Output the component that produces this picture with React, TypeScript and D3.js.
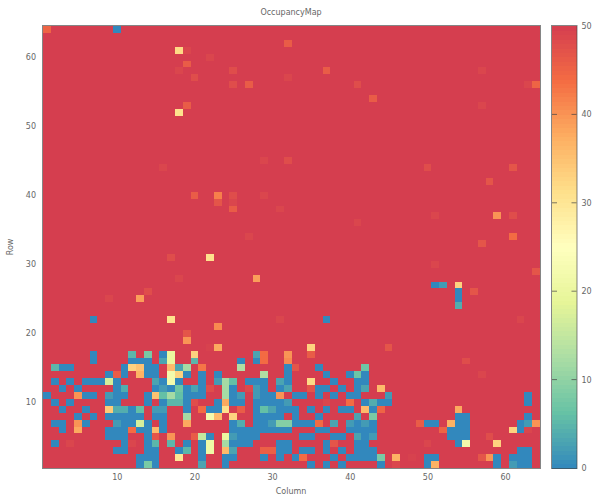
import React, { useRef, useEffect } from 'react';
import * as d3 from 'd3';

type Cell = [number, number]; // [column, occupancy]

const WIDTH = 595;
const HEIGHT = 497;

const title = 'OccupancyMap';
const xTitle = 'Column';
const yTitle = 'Row';
const colCount = 64;
const rowCount = 64;
const fullValue = 50;
const xTicks = [10, 20, 30, 40, 50, 60];
const yTicks = [10, 20, 30, 40, 50, 60];
const barTicks = [0, 10, 20, 30, 40, 50];
const palette = ['#3288bd', '#66c2a5', '#abdda4', '#e6f598', '#ffffbf', '#fee08b', '#fdae61', '#f46d43', '#d53e4f'];

// Only the cells below full occupancy are listed, the rest of the map is fullValue
const row01: Cell[] = [[13,0],[14,8],[15,0],[21,3],[24,0],[35,0],[37,0],[39,0],[44,0],[46,49],[50,0],[51,37],[59,0],[61,2],[62,0],[63,0]];
const row02: Cell[] = [[13,0],[14,0],[15,0],[18,30],[21,0],[24,0],[25,0],[29,0],[31,0],[33,0],[34,44],[38,0],[40,0],[41,0],[42,0],[43,0],[44,8],[46,37],[48,49.5],[50,0],[51,0],[57,47],[58,40],[59,0],[61,0],[62,0],[63,0]];
const row03: Cell[] = [[10,0],[11,0],[14,0],[15,0],[18,0],[19,5],[21,0],[22,21],[24,36],[25,3],[29,45.5],[30,45.5],[31,0],[32,0],[34,0],[35,0],[37,0],[39,0],[41,0],[42,0],[43,0],[62,0],[63,0]];
const row04: Cell[] = [[2,0],[4,49],[11,0],[12,49],[14,0],[15,5],[17,5],[19,0],[21,0],[22,21],[24,12],[25,0],[26,0],[27,0],[31,0],[32,0],[37,0],[38,47],[41,0],[42,0],[50,49],[54,0],[55,22],[59,33]];
const row05: Cell[] = [[9,0],[10,0],[11,0],[14,0],[15,47],[17,40],[20,46],[21,15],[22,0],[24,20],[25,2],[26,0],[27,0],[28,0],[34,0],[35,0],[38,0],[39,0],[41,3],[42,0],[43,2],[53,0],[54,0],[55,0],[58,48]];
const row06: Cell[] = [[3,0],[5,38],[9,0],[10,0],[11,0],[12,44],[13,0],[14,0],[15,36],[16,0],[25,0],[26,0],[27,0],[28,0],[29,0],[30,0],[31,0],[32,0],[36,0],[37,0],[40,0],[41,0],[42,0],[43,0],[52,45],[53,0],[54,0],[55,0],[61,33],[62,0],[63,49]];
const row07: Cell[] = [[2,0],[3,0],[5,40],[6,0],[10,2],[11,0],[12,0],[13,17],[14,0],[16,0],[19,38],[25,0],[26,4],[28,0],[29,0],[30,2],[31,9],[32,9],[33,0],[34,0],[35,0],[36,44],[38,3],[40,2],[41,0],[42,2],[43,0],[49,46],[50,0],[51,0],[53,37],[54,0],[55,0],[62,0],[63,2],[64,40]];
const row08: Cell[] = [[5,0],[7,0],[9,0],[10,0],[11,0],[12,0],[13,0],[15,0],[16,0],[19,12],[22,22],[23,36],[25,33],[28,0],[29,0],[30,0],[31,0],[33,0],[36,0],[41,3],[43,8],[54,0],[55,0],[63,0]];
const row09: Cell[] = [[3,0],[6,0],[9,34],[10,4],[11,4],[12,0],[13,6],[15,2],[16,2],[19,0],[21,44],[22,0],[23,0],[24,31],[26,46],[28,0],[29,6],[30,3],[31,0],[32,0],[33,0],[35,0],[37,0],[39,0],[40,0],[42,36],[43,0],[44,45],[54,38]];
const row10: Cell[] = [[2,0],[4,0],[9,0],[10,0],[14,0],[16,0],[17,5],[18,5],[19,0],[20,48],[23,0],[24,38],[25,0],[26,0],[28,0],[29,0],[30,0],[31,0],[32,2],[37,49],[40,44],[42,0],[43,4],[44,0],[45,0],[63,0]];
const row11: Cell[] = [[1,0],[5,40],[6,0],[7,0],[9,2],[10,0],[11,0],[14,0],[15,35],[16,6],[17,12],[18,6],[19,0],[20,0],[21,0],[24,12],[25,0],[26,2],[28,2],[29,0],[30,0],[31,40],[33,0],[34,0],[36,0],[38,0],[40,0],[41,0],[45,2],[63,0]];
const row12: Cell[] = [[3,0],[5,0],[10,0],[11,4],[15,0],[16,2],[17,0],[18,7],[19,0],[20,3],[21,0],[22,48],[24,12],[25,0],[27,48.5],[28,2],[29,0],[31,0],[32,3],[35,47],[36,0],[37,0],[39,0],[41,0],[42,3],[44,36]];
const row13: Cell[] = [[2,0],[4,0],[6,0],[7,0],[8,0],[9,17],[10,0],[15,3],[16,0],[17,22],[18,0],[21,0],[23,2],[24,12],[25,6],[27,0],[28,0],[29,0],[31,3],[32,0],[35,32],[38,0],[41,0],[42,0]];
const row14: Cell[] = [[9,0],[10,46],[11,0],[13,37],[14,0],[15,0],[17,22],[18,33],[19,0],[21,0],[23,0],[29,13],[32,0],[37,0],[40,0],[41,7],[42,0],[57,49]];
const row15: Cell[] = [[2,5],[3,0],[4,0],[11,0],[12,33],[13,35],[14,0],[15,0],[17,36],[18,3],[19,12],[21,43],[26,13],[32,0],[33,47],[36,0],[42,7]];
const row16: Cell[] = [[7,0],[12,0],[13,0],[14,0],[16,3],[17,20],[20,5],[26,0],[28,0],[29,44],[32,41],[55,48]];
const row17: Cell[] = [[7,0],[12,5],[14,8],[16,0],[17,20],[20,33],[28,3],[29,44],[32,40],[35,46]];
const row18: Cell[] = [[22,49.5],[23,38],[35,33],[45,47]];
const row19: Cell[] = [[19,40]];
const row20: Cell[] = [[19,47]];
const row21: Cell[] = [[23,41]];
const row22: Cell[] = [[7,0],[17,31],[31,49],[37,0],[62,49]];
const row24: Cell[] = [[54,4]];
const row25: Cell[] = [[9,49],[13,39],[54,0]];
const row26: Cell[] = [[14,48],[54,0],[56,47]];
const row27: Cell[] = [[51,0],[52,2],[54,33]];
const row28: Cell[] = [[18,49],[28,39]];
const row29: Cell[] = [[64,47]];
const row30: Cell[] = [[51,49]];
const row31: Cell[] = [[17,48],[22,31]];
const row33: Cell[] = [[57,47]];
const row34: Cell[] = [[27,49],[61,44]];
const row36: Cell[] = [[41,49]];
const row37: Cell[] = [[51,49],[59,40],[61,48]];
const row38: Cell[] = [[25,46],[31,49]];
const row39: Cell[] = [[23,47],[25,49]];
const row40: Cell[] = [[20,46],[23,42],[25,48],[29,49]];
const row42: Cell[] = [[58,47]];
const row44: Cell[] = [[16,49],[50,48],[61,47]];
const row45: Cell[] = [[29,49],[32,48]];
const row52: Cell[] = [[18,31]];
const row53: Cell[] = [[19,46],[57,49]];
const row54: Cell[] = [[43,46]];
const row56: Cell[] = [[25,48],[27,46],[41,48],[63,49],[64,45]];
const row57: Cell[] = [[20,48],[32,49]];
const row58: Cell[] = [[18,49],[25,48],[37,46],[57,49]];
const row59: Cell[] = [[19,46]];
const row60: Cell[] = [[22,49]];
const row61: Cell[] = [[18,32],[19,49]];
const row62: Cell[] = [[32,46]];
const row64: Cell[] = [[1,45],[10,0]];

const rowTable: [number, Cell[]][] = [
  [1,row01],[2,row02],[3,row03],[4,row04],[5,row05],[6,row06],[7,row07],[8,row08],[9,row09],[10,row10],
  [11,row11],[12,row12],[13,row13],[14,row14],[15,row15],[16,row16],[17,row17],[18,row18],[19,row19],[20,row20],
  [21,row21],[22,row22],[24,row24],[25,row25],[26,row26],[27,row27],[28,row28],[29,row29],[30,row30],[31,row31],
  [33,row33],[34,row34],[36,row36],[37,row37],[38,row38],[39,row39],[40,row40],[42,row42],[44,row44],[45,row45],
  [52,row52],[53,row53],[54,row54],[56,row56],[57,row57],[58,row58],[59,row59],[60,row60],[61,row61],[62,row62],[64,row64],
];

const OccupancyMap: React.FC = () => {
  const svgRef = useRef<SVGSVGElement>(null);

  useEffect(() => {
    if (!svgRef.current) return;
    const svg = d3.select(svgRef.current);
    svg.selectAll('*').remove();

    const plot = { left: 43, right: 540, top: 26, bottom: 468 };
    const bar = { left: 552, right: 576.5 };
    const textColor = '#666';
    const font = '"DejaVu Sans", sans-serif';

    const x = d3.scaleLinear().domain([0.5, colCount + 0.5]).range([plot.left, plot.right]);
    const y = d3.scaleLinear().domain([0.5, rowCount + 0.5]).range([plot.bottom, plot.top]);
    const z = d3.scaleLinear().domain([0, fullValue]).range([plot.bottom, plot.top]);
    const color = d3.scaleLinear<string>()
      .domain(palette.map((_, i) => (i * fullValue) / (palette.length - 1)))
      .range(palette)
      .interpolate(d3.interpolateRgb);

    // Full rows form the background
    svg.append('rect')
      .attr('x', x(0.5)).attr('y', y(rowCount + 0.5))
      .attr('width', x(colCount + 0.5) - x(0.5))
      .attr('height', y(0.5) - y(rowCount + 0.5))
      .attr('fill', color(fullValue));

    const cells = rowTable.flatMap(([row, list]) => list.map(([col, value]) => ({ row, col, value })));
    svg.append('g')
      .attr('shape-rendering', 'crispEdges')
      .selectAll('rect')
      .data(cells)
      .enter().append('rect')
      .attr('x', d => x(d.col - 0.5))
      .attr('y', d => y(d.row + 0.5))
      .attr('width', d => x(d.col + 0.5) - x(d.col - 0.5))
      .attr('height', d => y(d.row - 0.5) - y(d.row + 0.5))
      .attr('fill', d => color(d.value));

    // Colour bar
    const steps = d3.range(0, fullValue, 0.5);
    svg.append('g')
      .attr('shape-rendering', 'crispEdges')
      .selectAll('rect')
      .data(steps)
      .enter().append('rect')
      .attr('x', bar.left)
      .attr('width', bar.right - bar.left)
      .attr('y', d => z(d + 0.5))
      .attr('height', d => z(d) - z(d + 0.5) + 0.5)
      .attr('fill', d => color(d + 0.25));

    // Frames
    [[plot.left, plot.right], [bar.left, bar.right]].forEach(([l, r]) => {
      svg.append('rect')
        .attr('x', l - 0.5).attr('y', plot.top - 0.5)
        .attr('width', r - l + 1).attr('height', plot.bottom - plot.top + 1)
        .attr('fill', 'none')
        .attr('stroke', '#444')
        .attr('stroke-opacity', 0.65)
        .attr('stroke-width', 1);
    });

    // Colour bar ticks sit inside on both sides
    const inner = barTicks.filter(d => d > 0 && d < fullValue);
    [[bar.left, bar.left + 5], [bar.right - 5, bar.right]].forEach(([a, b]) => {
      svg.append('g').selectAll('line')
        .data(inner)
        .enter().append('line')
        .attr('x1', a).attr('x2', b)
        .attr('y1', d => z(d)).attr('y2', d => z(d))
        .attr('stroke', '#444')
        .attr('stroke-opacity', 0.7)
        .attr('stroke-width', 1);
    });

    // Axes
    const styleAxis = (g: d3.Selection<SVGGElement, unknown, null, undefined>) => {
      g.select('.domain').remove();
      g.selectAll('line').remove();
      g.selectAll('text')
        .attr('font-family', font)
        .attr('font-size', '8px')
        .attr('fill', textColor);
    };

    svg.append('g')
      .attr('transform', `translate(0,${plot.bottom})`)
      .call(d3.axisBottom(x).tickValues(xTicks).tickSize(0).tickPadding(6).tickFormat(d3.format('d')))
      .call(styleAxis);

    svg.append('g')
      .attr('transform', `translate(${plot.left},0)`)
      .call(d3.axisLeft(y).tickValues(yTicks).tickSize(0).tickPadding(7).tickFormat(d3.format('d')))
      .call(styleAxis);

    svg.append('g')
      .attr('transform', `translate(${bar.right},0)`)
      .call(d3.axisRight(z).tickValues(barTicks).tickSize(0).tickPadding(5).tickFormat(d3.format('d')))
      .call(styleAxis);

    const label = (tx: number, ty: number, s: string, rotate = 0) =>
      svg.append('text')
        .attr('transform', `translate(${tx},${ty}) rotate(${rotate})`)
        .attr('text-anchor', 'middle')
        .attr('font-family', font)
        .attr('font-size', '8px')
        .attr('fill', textColor)
        .text(s);

    label(291, 14.5, title);
    label(291, 494, xTitle);
    label(13, 247, yTitle, -90);
  }, []);

  return <svg ref={svgRef} width={WIDTH} height={HEIGHT} style={{ position: 'absolute', left: 0, top: 0 }} />;
};

export default function App() {
  return <OccupancyMap />;
}
